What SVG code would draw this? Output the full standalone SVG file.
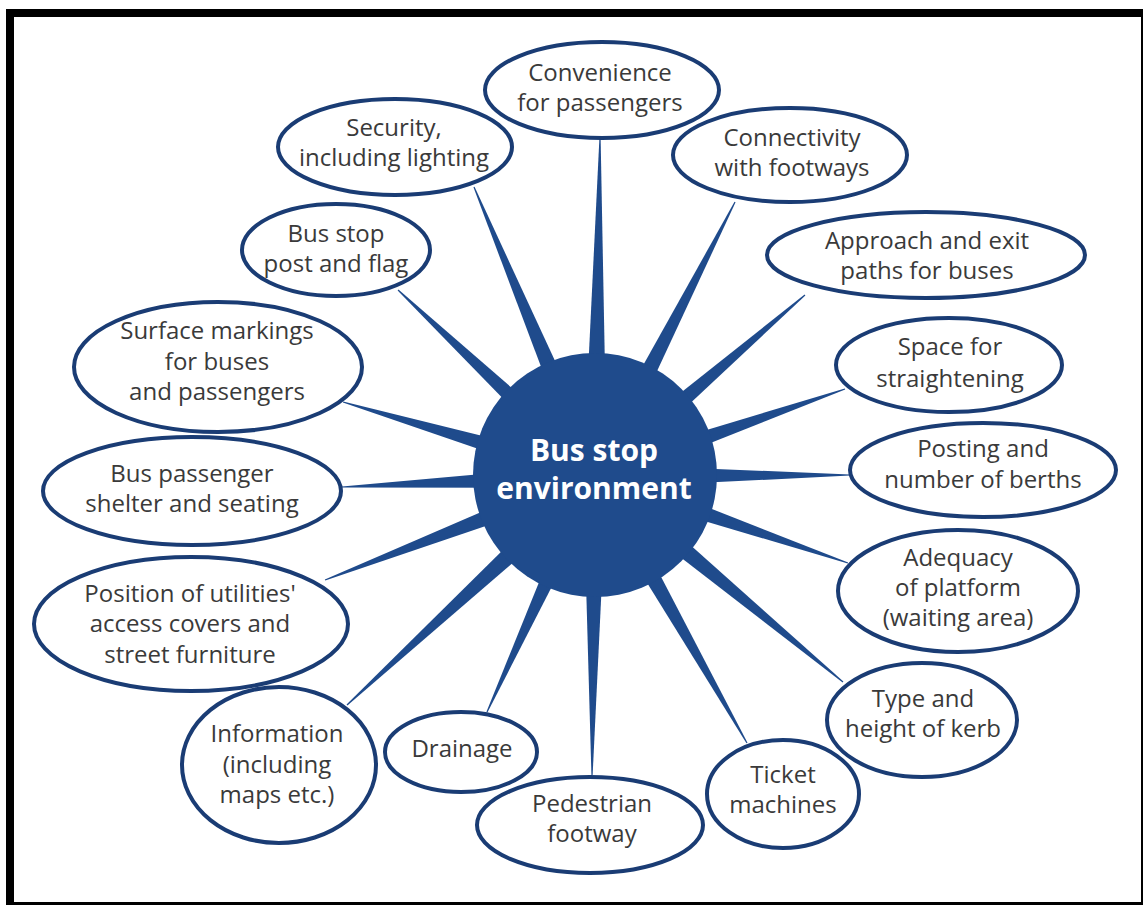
<svg xmlns="http://www.w3.org/2000/svg" xmlns:xlink="http://www.w3.org/1999/xlink" width="1143" height="905" viewBox="0 0 1143 905">
<style>
.node ellipse{fill:#fff;stroke:#1a3c74;stroke-width:4}
.lbl{font-family:"Open Sans","Noto Sans","Liberation Sans",sans-serif;font-size:24px;fill:#3a3a3a;text-anchor:middle}
.hub{font-family:"Open Sans","Noto Sans","Liberation Sans",sans-serif;font-size:30px;font-weight:bold;fill:#fff;text-anchor:middle}
.spk{fill:#1f4b8c}
</style>
<defs>
<path id="spoke" d="M0,-12 L1,-0.6 L1,0.6 L0,12 Z"/>
</defs>
<rect x="0" y="0" width="1143" height="905" fill="#fff"/>
<g id="frame" fill="#000">
<rect x="6" y="9" width="1137" height="8"/>
<rect x="6" y="9" width="8" height="896"/>
<rect x="6" y="902" width="1137" height="3"/>
<rect x="1141" y="9" width="2" height="896"/>
</g>
<g id="connectors" class="spk">
<use xlink:href="#spoke" transform="translate(595 476) rotate(-89.15) scale(338 1)"/>
<use xlink:href="#spoke" transform="translate(595 476) rotate(-112.72) scale(313.3 1)"/>
<use xlink:href="#spoke" transform="translate(595 476) rotate(-62.93) scale(307.7 1)"/>
<use xlink:href="#spoke" transform="translate(595 476) rotate(-40.76) scale(277.2 1)"/>
<use xlink:href="#spoke" transform="translate(595 476) rotate(-136.64) scale(270.9 1)"/>
<use xlink:href="#spoke" transform="translate(595 476) rotate(-163.63) scale(262.6 1)"/>
<use xlink:href="#spoke" transform="translate(595 476) rotate(177.51) scale(253.2 1)"/>
<use xlink:href="#spoke" transform="translate(595 476) rotate(158.93) scale(289.3 1)"/>
<use xlink:href="#spoke" transform="translate(595 476) rotate(137.28) scale(337.6 1)"/>
<use xlink:href="#spoke" transform="translate(595 476) rotate(114.59) scale(259.5 1)"/>
<use xlink:href="#spoke" transform="translate(595 476) rotate(90.57) scale(299 1)"/>
<use xlink:href="#spoke" transform="translate(595 476) rotate(60.35) scale(307.2 1)"/>
<use xlink:href="#spoke" transform="translate(595 476) rotate(39.71) scale(322.4 1)"/>
<use xlink:href="#spoke" transform="translate(595 476) rotate(18.98) scale(267.5 1)"/>
<use xlink:href="#spoke" transform="translate(595 476) rotate(-0.22) scale(255 1)"/>
<use xlink:href="#spoke" transform="translate(595 476) rotate(-19.19) scale(264.7 1)"/>
</g>
<g id="hub">
<circle cx="595" cy="475" r="122" fill="#1f4b8c"/>
<text class="hub" x="594" y="461">Bus stop</text>
<text class="hub" x="594" y="499">environment</text>
</g>
<g id="n-convenience" class="node">
<ellipse cx="602" cy="90" rx="117" ry="48"/>
<text class="lbl" x="600" y="81">Convenience</text>
<text class="lbl" x="600" y="111">for passengers</text>
</g>
<g id="n-security" class="node">
<ellipse cx="395" cy="147" rx="117" ry="48"/>
<text class="lbl" x="394" y="136">Security,</text>
<text class="lbl" x="394" y="166">including lighting</text>
</g>
<g id="n-connectivity" class="node">
<ellipse cx="790" cy="155" rx="117" ry="47"/>
<text class="lbl" x="792" y="146">Connectivity</text>
<text class="lbl" x="792" y="176">with footways</text>
</g>
<g id="n-approach" class="node">
<ellipse cx="926" cy="255" rx="159" ry="43"/>
<text class="lbl" x="927" y="249">Approach and exit</text>
<text class="lbl" x="927" y="279">paths for buses</text>
</g>
<g id="n-post" class="node">
<ellipse cx="336" cy="250" rx="94" ry="46"/>
<text class="lbl" x="336" y="242">Bus stop</text>
<text class="lbl" x="336" y="272">post and flag</text>
</g>
<g id="n-surface" class="node">
<ellipse cx="218" cy="367" rx="144" ry="65"/>
<text class="lbl" x="217" y="339">Surface markings</text>
<text class="lbl" x="217" y="370">for buses</text>
<text class="lbl" x="217" y="400">and passengers</text>
</g>
<g id="n-shelter" class="node">
<ellipse cx="192" cy="491" rx="149" ry="54"/>
<text class="lbl" x="192" y="482">Bus passenger</text>
<text class="lbl" x="192" y="512">shelter and seating</text>
</g>
<g id="n-utilities" class="node">
<ellipse cx="191" cy="624" rx="157" ry="67"/>
<text class="lbl" x="190" y="602">Position of utilities'</text>
<text class="lbl" x="190" y="632">access covers and</text>
<text class="lbl" x="190" y="663">street furniture</text>
</g>
<g id="n-information" class="node">
<ellipse cx="279" cy="765" rx="97" ry="78"/>
<text class="lbl" x="277" y="742">Information</text>
<text class="lbl" x="277" y="773">(including</text>
<text class="lbl" x="277" y="803">maps etc.)</text>
</g>
<g id="n-drainage" class="node">
<ellipse cx="461" cy="752" rx="76" ry="40"/>
<text class="lbl" x="462" y="757">Drainage</text>
</g>
<g id="n-pedestrian" class="node">
<ellipse cx="590" cy="825" rx="113" ry="48"/>
<text class="lbl" x="592" y="812">Pedestrian</text>
<text class="lbl" x="592" y="842">footway</text>
</g>
<g id="n-ticket" class="node">
<ellipse cx="783" cy="794" rx="76" ry="54"/>
<text class="lbl" x="783" y="783">Ticket</text>
<text class="lbl" x="783" y="813">machines</text>
</g>
<g id="n-kerb" class="node">
<ellipse cx="922" cy="720" rx="95" ry="57"/>
<text class="lbl" x="923" y="707">Type and</text>
<text class="lbl" x="923" y="737">height of kerb</text>
</g>
<g id="n-platform" class="node">
<ellipse cx="958" cy="591" rx="120" ry="61"/>
<text class="lbl" x="958" y="566">Adequacy</text>
<text class="lbl" x="958" y="596">of platform</text>
<text class="lbl" x="958" y="626">(waiting area)</text>
</g>
<g id="n-berths" class="node">
<ellipse cx="983" cy="470" rx="133" ry="47"/>
<text class="lbl" x="983" y="457">Posting and</text>
<text class="lbl" x="983" y="488">number of berths</text>
</g>
<g id="n-straightening" class="node">
<ellipse cx="949" cy="365" rx="113" ry="47"/>
<text class="lbl" x="950" y="355">Space for</text>
<text class="lbl" x="950" y="387">straightening</text>
</g>
</svg>
